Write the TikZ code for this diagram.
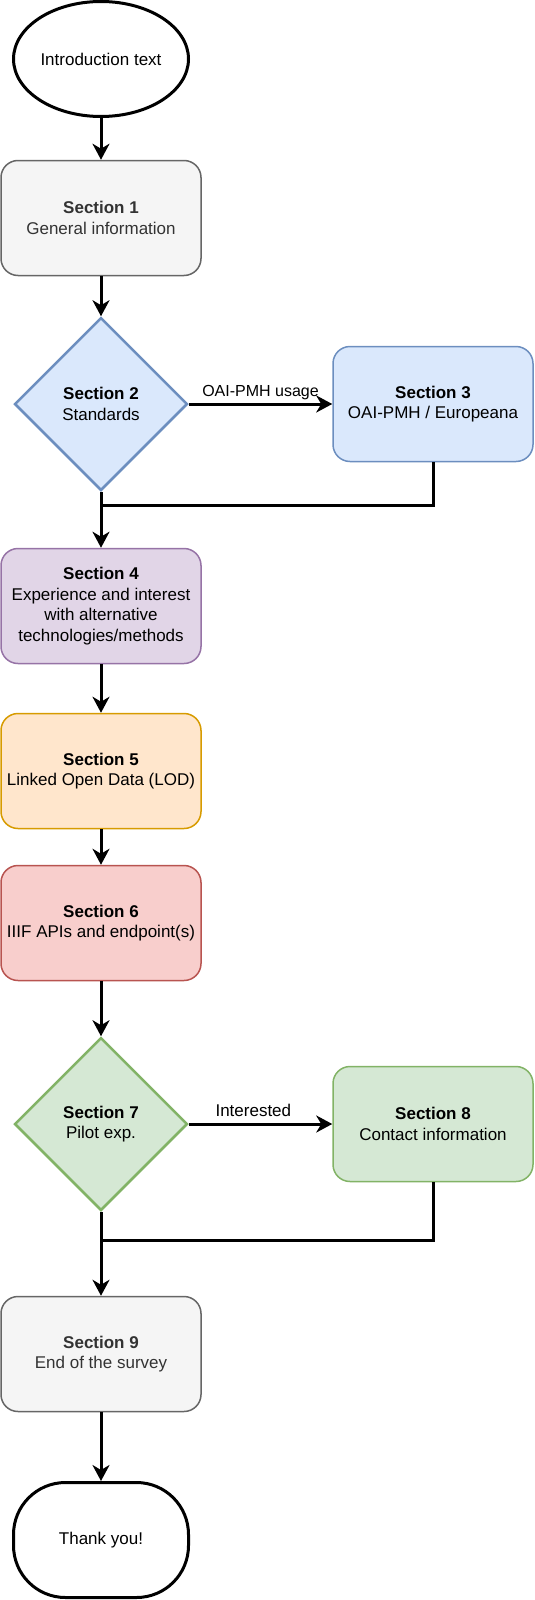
\documentclass[tikz,border=0pt]{standalone}
\usepackage{fontspec}
\setmainfont{Liberation Sans}
\usetikzlibrary{shapes.geometric,arrows.meta}

\definecolor{greyfill}{HTML}{F5F5F5}
\definecolor{greyline}{HTML}{666666}
\definecolor{greytext}{HTML}{333333}
\definecolor{bluefill}{HTML}{DAE8FC}
\definecolor{blueline}{HTML}{6C8EBF}
\definecolor{purplefill}{HTML}{E1D5E7}
\definecolor{purpleline}{HTML}{9673A6}
\definecolor{orangefill}{HTML}{FFE6CC}
\definecolor{orangeline}{HTML}{D79B00}
\definecolor{redfill}{HTML}{F8CECC}
\definecolor{redline}{HTML}{B85450}
\definecolor{greenfill}{HTML}{D5E8D4}
\definecolor{greenline}{HTML}{82B366}

\begin{document}
\begin{tikzpicture}[x=1pt, y=-1pt,
    every node/.style={font=\fontsize{17}{20.5}\selectfont, align=center, inner sep=0pt},
    box/.style={draw, rounded corners=17pt, line width=1.5pt, minimum width=200pt, minimum height=115pt},
    choice/.style={draw, diamond, shape aspect=1, line width=2.5pt, minimum width=173pt, minimum height=173pt},
    term/.style={draw, line width=3pt, minimum width=175pt, minimum height=115pt},
    greybox/.style={box, fill=greyfill, draw=greyline, text=greytext},
    bluebox/.style={box, fill=bluefill, draw=blueline},
    purplebox/.style={box, fill=purplefill, draw=purpleline},
    orangebox/.style={box, fill=orangefill, draw=orangeline},
    redbox/.style={box, fill=redfill, draw=redline},
    greenbox/.style={box, fill=greenfill, draw=greenline},
    arr/.style={line width=3pt, -{Stealth[length=16pt, width=17pt, inset=5pt]}},
    link/.style={line width=3pt},
    lbl/.style={font=\fontsize{16}{19}\selectfont, anchor=base, yshift=8pt}]
    \useasboundingbox (0,0) rectangle (535,1600);

    \node[term, ellipse] (intro) at (101,59) {Introduction text};
    \node[greybox] (s1) at (101,218) {\textbf{Section 1}\\General information};
    \node[choice, fill=bluefill, draw=blueline] (s2) at (101,404) {\textbf{Section 2}\\Standards};
    \node[bluebox] (s3) at (433,404) {\textbf{Section 3}\\OAI-PMH / Europeana};
    \coordinate (join1) at (101,505);
    \node[purplebox] (s4) at (101,606) {\textbf{Section 4}\\Experience and interest\\with alternative\\technologies/methods};
    \node[orangebox] (s5) at (101,771) {\textbf{Section 5}\\Linked Open Data (LOD)};
    \node[redbox] (s6) at (101,923) {\textbf{Section 6}\\IIIF APIs and endpoint(s)};
    \node[choice, fill=greenfill, draw=greenline] (s7) at (101,1124) {\textbf{Section 7}\\Pilot exp.};
    \node[greenbox] (s8) at (433,1124) {\textbf{Section 8}\\Contact information};
    \coordinate (join2) at (101,1240);
    \node[greybox] (s9) at (101,1354) {\textbf{Section 9}\\End of the survey};
    \node[term, rounded corners=52pt] (thanks) at (101,1540) {Thank you!};

    \draw[arr] (intro) -- (s1);
    \draw[arr] (s1) -- (s2);
    \draw[arr] (s2) -- node[lbl] {OAI-PMH usage} (s3);
    \draw[link] (s3) |- (join1);
    \draw[arr] (s2) -- (s4);
    \draw[arr] (s4) -- (s5);
    \draw[arr] (s5) -- (s6);
    \draw[arr] (s6) -- (s7);
    \draw[arr] (s7) -- node[lbl, font=\fontsize{17}{20.5}\selectfont, pos=0.45] {Interested} (s8);
    \draw[link] (s8) |- (join2);
    \draw[arr] (s7) -- (s9);
    \draw[arr] (s9) -- (thanks);
\end{tikzpicture}
\end{document}
